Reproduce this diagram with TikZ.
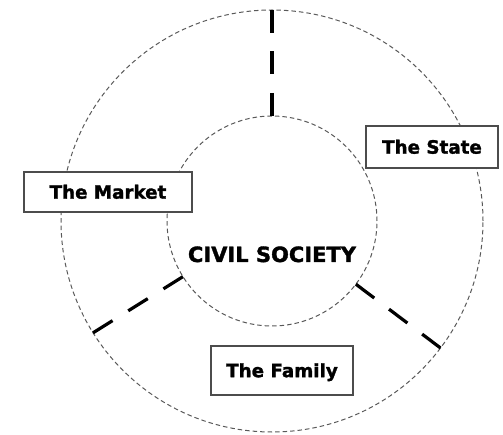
\documentclass[tikz,border=0pt]{standalone}
\usepackage{fontspec}
\setmainfont{DejaVu Sans}
\newfontfamily\heavyfont{DejaVu Sans Bold}[FakeBold=1.6]
\usepackage{tikz}

\begin{document}
\begin{tikzpicture}[x=1pt, y=-1pt,
    ring/.style={circle, draw=black!65, line width=1pt, dash pattern=on 4.5pt off 3pt, inner sep=0pt, outer sep=0pt},
    spoke/.style={line width=3.2pt, dash pattern=on 23pt off 18.5pt},
    sectorbox/.style={draw=black!70, line width=1.4pt, fill=white, inner sep=0pt, font=\fontsize{18.3}{20}\heavyfont, text height=13.3pt, text depth=0pt}]
    \useasboundingbox (0, 0) rectangle (503, 435);
    % rings
    \node [ring, minimum size=422pt] (outer) at (272, 221) {};
    \node [ring, minimum size=210pt] (inner) at (272, 221) {};
    % dividing lines
    \draw [spoke] (outer.90) -- (inner.90);
    \draw [spoke] (outer.212) -- (inner.212);
    \draw [spoke] (outer.323) -- (inner.323);
    % sectors
    \node [sectorbox, minimum width=168pt, minimum height=40pt] (market) at (108, 192) {The Market};
    \node [sectorbox, minimum width=132pt, minimum height=42pt] (state) at (432, 147) {The State};
    \node [sectorbox, minimum width=142pt, minimum height=49pt] (family) at (282, 370.5) {The Family};
    % centre
    \node [font=\fontsize{21}{24}\heavyfont, anchor=base, inner sep=0pt] (civil) at (272, 262) {CIVIL SOCIETY};
\end{tikzpicture}
\end{document}
